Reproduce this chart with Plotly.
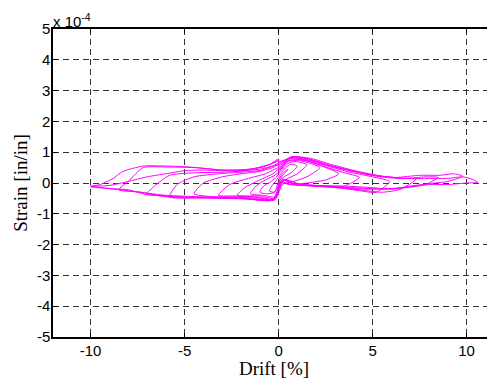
import plotly.graph_objects as go

# ---- data (drift in %, strain in units of 1e-4 in/in) ----
c0_x = [0, 0.2, 0.5, 0.3, 0.1, -0.1, -0.3, -0.5, -0.3, -0.1, 0]
c0_y = [0.1, 0.3, 0.45, 0.3, 0.15, -0.2, -0.3, -0.25, -0.05, 0.1, 0.2]

c1_x = [0, 0.3, 0.6, 1.0, 0.7, 0.3, 0, -0.2, -0.6, -1.0, -0.8, -0.4, -0.1, 0]
c1_y = [0.2, 0.45, 0.6, 0.55, 0.35, 0.2, 0.05, -0.3, -0.35, -0.3, -0.1, 0.05, 0.2, 0.3]

c2_x = [0, 0.4, 0.8, 1.5, 1.0, 0.5, 0.1, -0.2, -0.8, -1.5, -1.2, -0.7, -0.2, 0]
c2_y = [0.3, 0.6, 0.7, 0.6, 0.3, 0.15, 0.0, -0.45, -0.4, -0.35, -0.1, 0.1, 0.25, 0.35]

c3_x = [0, 0.5, 1.2, 2.2, 1.5, 0.8, 0.2, -0.15, -1.0, -2.2, -1.8, -1.0, -0.3, 0]
c3_y = [0.35, 0.7, 0.72, 0.5, 0.2, 0.05, -0.05, -0.5, -0.42, -0.4, -0.15, 0.1, 0.3, 0.45]

c4_x = [0, 0.5, 1.3, 2.3, 3.2, 2.5, 1.5, 0.6, 0.1, -0.2, -1.2, -2.2, -3.2, -2.6, -1.6, -0.7, 0]
c4_y = [0.4, 0.72, 0.75, 0.55, 0.3, 0.1, 0.0, -0.05, 0.0, -0.52, -0.45, -0.42, -0.4, -0.05, 0.15, 0.3, 0.5]

c5_x = [0, 0.6, 1.5, 2.5, 3.4, 4.3, 3.5, 2.5, 1.5, 0.6, 0.1, -0.2, -1.3, -2.5, -3.6, -4.5,
        -4.0, -3.0, -2.0, -1.0, -0.3, 0]
c5_y = [0.45, 0.78, 0.72, 0.52, 0.35, 0.18, -0.1, -0.12, -0.08, -0.05, 0.05, -0.55, -0.45, -0.45, -0.44, -0.35,
        0.0, 0.2, 0.3, 0.38, 0.5, 0.6]

c6_x = [0, 0.6, 1.5, 2.6, 3.8, 5.0, 5.9, 5.2, 4.3, 3.2, 2.0, 0.9, 0.2, -0.25, -1.5, -3.0, -4.5, -5.8,
        -5.4, -4.5, -3.2, -2.0, -0.9, -0.3, 0]
c6_y = [0.5, 0.82, 0.75, 0.55, 0.35, 0.2, 0.05, -0.3, -0.25, -0.15, -0.1, -0.05, 0.1, -0.55, -0.48, -0.46, -0.47, -0.45,
        -0.05, 0.2, 0.3, 0.35, 0.42, 0.55, 0.65]

c7_x = [0, 0.7, 1.6, 2.7, 4.0, 5.2, 6.3, 7.3, 6.5, 5.5, 4.3, 3.0, 1.8, 0.8, 0.2, -0.3, -1.8, -3.5, -5.0, -6.0, -7.0,
        -6.6, -5.8, -4.5, -3.0, -1.8, -0.7, 0]
c7_y = [0.55, 0.85, 0.78, 0.58, 0.38, 0.22, 0.15, 0.12, -0.2, -0.3, -0.22, -0.15, -0.1, -0.05, 0.1, -0.55, -0.5, -0.48, -0.48, -0.42, -0.35,
        -0.1, 0.25, 0.33, 0.35, 0.4, 0.55, 0.7]

c8_x = [0, 0.7, 1.7, 2.8, 4.2, 5.5, 6.8, 7.8, 8.5, 7.8, 6.8, 5.5, 4.0, 2.5, 1.2, 0.3, -0.3, -2.0, -4.0, -5.5, -6.5, -7.3, -8.5,
        -8.0, -7.2, -6.0, -4.5, -3.0, -1.5, -0.5, 0]
c8_y = [0.6, 0.85, 0.8, 0.6, 0.38, 0.22, 0.15, 0.2, 0.18, -0.05, -0.15, -0.2, -0.15, -0.1, -0.05, 0.1, -0.55, -0.5, -0.48, -0.48, -0.4, -0.3, -0.22,
        0.05, 0.5, 0.52, 0.5, 0.42, 0.45, 0.6, 0.75]

c9_x = [0, 0.7, 1.6, 2.6, 3.8, 5.0, 6.2, 7.5, 8.6, 9.3, 9.8, 9.0, 8.0, 7.0, 6.0, 5.0, 3.5, 2.0, 0.8, 0.2,
        -0.3, -1.5, -3.0, -4.5, -6.0, -7.0, -8.0, -9.0, -10.0,
        -9.5, -8.8, -8.3, -7.2, -6.0, -5.0, -4.0, -3.0, -2.0, -1.0, -0.4, 0]
c9_y = [0.65, 0.85, 0.78, 0.58, 0.4, 0.25, 0.18, 0.25, 0.25, 0.3, 0.22, 0.05, -0.02, -0.1, -0.2, -0.15, -0.1, -0.08, -0.02, 0.12,
        -0.55, -0.52, -0.5, -0.47, -0.42, -0.38, -0.22, -0.18, -0.12,
        -0.05, 0.15, 0.37, 0.55, 0.55, 0.53, 0.48, 0.42, 0.42, 0.5, 0.62, 0.78]

c10_x = [0, 0.8, 1.8, 3.0, 4.2, 5.5, 6.8, 8.0, 9.0, 9.8, 10.3, 10.6, 10.0, 9.0, 8.0, 7.0, 6.0, 5.0, 4.0, 3.0, 2.0, 1.0, 0.3,
         -0.3, -2.0, -4.0, -6.0, -8.0, -9.0, -10.0,
         -9.6, -9.0, -8.0, -7.0, -6.0, -5.0, -4.0, -3.0, -2.0, -1.0, 0]
c10_y = [0.7, 0.82, 0.72, 0.52, 0.35, 0.22, 0.15, 0.15, 0.15, 0.2, 0.12, 0.02, 0.0, -0.05, -0.05, -0.12, -0.18, -0.2, -0.18, -0.12, -0.08, -0.04, 0.1,
         -0.52, -0.5, -0.45, -0.4, -0.25, -0.18, -0.1,
         -0.1, -0.08, 0.05, 0.2, 0.3, 0.4, 0.42, 0.4, 0.4, 0.45, 0.6]

x_ticks = [-10, -5, 0, 5, 10]
x_tick_labels = ["-10", "-5", "0", "5", "10"]
y_ticks = [5, 4, 3, 2, 1, 0, -1, -2, -3, -4, -5]
y_tick_labels = ["5", "4", "3", "2", "1", "0", "-1", "-2", "-3", "-4", "-5"]

cycles = [(c0_x, c0_y), (c1_x, c1_y), (c2_x, c2_y), (c3_x, c3_y), (c4_x, c4_y), (c5_x, c5_y),
          (c6_x, c6_y), (c7_x, c7_y), (c8_x, c8_y), (c9_x, c9_y), (c10_x, c10_y)]

all_x, all_y = [], []
for cx, cy in cycles:
    all_x += cx
    all_y += cy

fig = go.Figure()
fig.add_trace(go.Scatter(x=all_x, y=all_y, mode="lines",
                         line=dict(color="#FF00FF", width=1, shape="spline", smoothing=0.6),
                         showlegend=False, hoverinfo="skip"))

grid = dict(showgrid=True, gridcolor="#333333", gridwidth=1, griddash="6px,4px")
title_font = dict(family="Liberation Serif, Times New Roman", size=19, color="black")
fig.update_layout(
    # the page body adds an 8px margin, so the figure is shrunk by that amount
    width=487, height=371,
    margin=dict(l=45, r=0, t=21, b=42),
    paper_bgcolor="white", plot_bgcolor="white",
    font=dict(family="Liberation Sans, Arial", size=15, color="black"),
    xaxis=dict(range=[-12, 11.51], tickvals=x_ticks, ticktext=x_tick_labels,
               ticks="inside", ticklen=4, tickcolor="black", showline=True, linecolor="black",
               linewidth=1.5, mirror="ticks", zeroline=False, ticklabelstandoff=-1,
               title=dict(text="Drift [%]", font=title_font, standoff=0), **grid),
    yaxis=dict(range=[-5, 5], tickvals=y_ticks, ticktext=y_tick_labels,
               ticks="inside", ticklen=4, tickcolor="black", showline=True, linecolor="black",
               linewidth=1.5, mirror=False, zeroline=False, ticklabelstandoff=-2,
               title=dict(text="Strain [in/in]", font=title_font, standoff=4), **grid),
)
fig.add_annotation(xref="paper", yref="paper", x=0, y=1, xanchor="left", yanchor="bottom",
                   text="x 10<sup>-4</sup>", showarrow=False, yshift=-3, xshift=-2,
                   font=dict(family="Liberation Sans, Arial", size=15, color="black"))
fig.write_html("out.html")
